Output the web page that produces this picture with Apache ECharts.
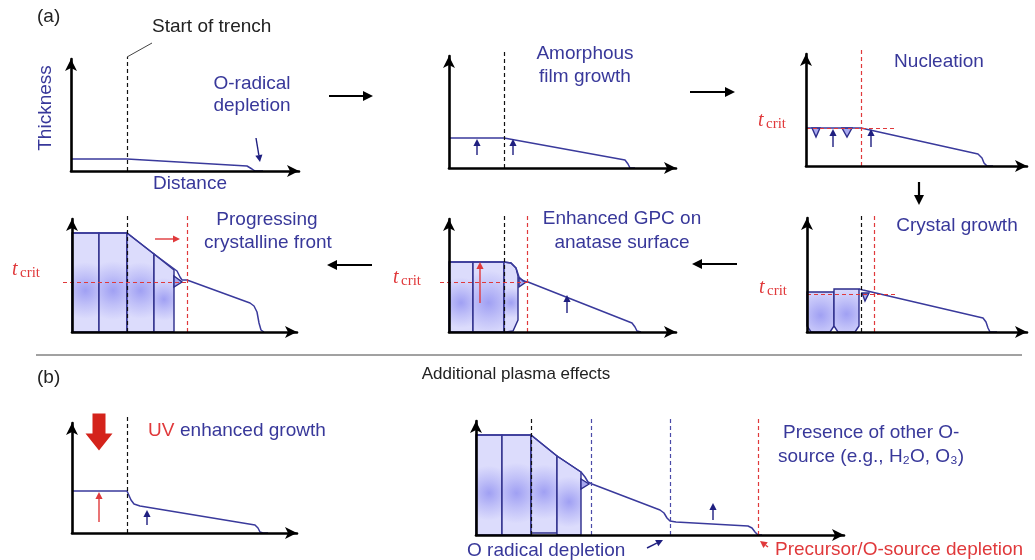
<!DOCTYPE html>
<html>
<head>
<meta charset="utf-8">
<script src="https://cdn.jsdelivr.net/npm/echarts@6/dist/echarts.min.js"></script>
<style>
html, body { margin: 0; padding: 0; background: #fff; }
#chart { width: 1035px; height: 560px; }
</style>
</head>
<body>
<div id="chart"></div>
<script>
// thickness profiles, one per panel (x = distance, y = thickness)
var profiles = [
  [[0, 12], [56, 12], [176, 5], [181, 2], [184, 0], [192, 0]],
  [[0, 30], [55, 30], [176, 8], [179, 4], [181, 0], [186, 0]],
  [[0, 38], [55, 38], [172, 12], [176, 8], [178, 3], [181, 0], [187, 0]],
  [[0, 99], [55, 99], [82, 78], [105, 61], [108, 55], [110, 52], [115, 52], [178, 29], [182, 26], [185, 20], [187, 9], [189, 2], [192, 0]],
  [[0, 70], [55, 70], [62, 69], [67, 64], [70, 55], [74, 51], [79, 50], [183, 9], [186, 5], [188, 1], [192, 0]],
  [[52, 43], [56, 42], [176, 14], [179, 10], [181, 4], [183, 0], [190, 0]],
  [[0, 42], [55, 42], [57, 40], [59, 33], [62, 29], [68, 27], [183, 8], [186, 5], [188, 1], [191, 0], [196, 0]],
  [[0, 100], [55, 100], [81, 79], [105, 63], [109, 58], [112, 53], [116, 51], [184, 25], [188, 22], [191, 17], [194, 14], [200, 13], [272, 9], [276, 7], [279, 3], [282, 0], [286, 0]]
];

// crystalline grains (polygons in data units): [panel, vertices]
var crystals = [
  [3, [[0, 0], [0, 99], [27, 99], [27, 0]]],
  [3, [[27, 0], [27, 99], [55, 99], [55, 0]]],
  [3, [[55, 0], [55, 99], [82, 78], [82, 0]]],
  [3, [[82, 0], [82, 78], [102, 62], [102, 0]]],
  [4, [[0, 0], [0, 70], [24, 70], [24, 0]]],
  [4, [[24, 0], [24, 70], [55, 70], [55, 0]]],
  [4, [[55, 0], [55, 70], [62, 69], [67, 64], [69, 56], [69, 12], [64, 1], [57, 0]]],
  [5, [[0, 6], [0, 40], [27, 40], [27, 6], [23, 0], [4, 0]]],
  [5, [[27, 6], [27, 43], [52, 43], [52, 6], [48, 0], [31, 0]]],
  [7, [[0, 0], [0, 100], [26, 100], [26, 0]]],
  [7, [[26, 0], [26, 100], [55, 100], [55, 0]]],
  [7, [[55, 2], [55, 100], [81, 79], [81, 2]]],
  [7, [[81, 0], [81, 79], [105, 63], [105, 0]]]
];

// nuclei (small triangles): [panel, vertices]
var nuclei = [
  [2, [[6, 38], [14, 38], [10, 29]]],
  [2, [[36, 38], [46, 38], [41, 29]]],
  [3, [[102, 56], [110, 50], [102, 45]]],
  [4, [[70, 54], [77, 50], [70, 45]]],
  [5, [[55, 39], [62, 39], [58, 31]]],
  [7, [[105, 56], [113, 51], [105, 46]]]
];

// vertical dashed markers: [panel, x, top, colour]
var vMarks = [
  [0, 56, 114, 'k'], [1, 55, 116, 'k'], [2, 55, 118, 'r'],
  [3, 55, 117, 'k'], [3, 115, 117, 'r'], [4, 55, 117, 'k'], [4, 78, 117, 'r'],
  [5, 54, 116, 'k'], [5, 67, 116, 'r'], [6, 55, 116, 'k'],
  [7, 55, 118, 'k'], [7, 115, 118, 'b'], [7, 194, 118, 'b'], [7, 282, 118, 'r']
];

// t_crit level: [panel, x0, x1, y]
var critLevels = [[2, 0, 91, 38], [3, -9, 115, 50], [4, -9, 78, 50], [5, 0, 90, 38]];

// small arrows inside panels: [panel, x0, y0, x1, y1, colour] (x1,y1 = tip)
var growthArrows = [
  [0, 185, 33, 189, 9, 'b'],
  [1, 28, 13, 28, 29, 'b'], [1, 64, 13, 64, 29, 'b'],
  [2, 27, 19, 27, 37, 'b'], [2, 65, 19, 65, 37, 'b'],
  [3, 83, 93, 108, 93, 'r'],
  [4, 31, 29, 31, 70, 'r'], [4, 118, 19, 118, 37, 'b'],
  [6, 27, 11, 27, 41, 'r'], [6, 75, 8, 75, 23, 'b'],
  [7, 237, 15, 237, 32, 'b'],
  [7, 171, -13, 187, -5, 'b'], [7, 292, -12, 284, -6, 'r']
];

// leader for "Start of trench": [panel, x0, y0, x1, y1]
var leaders = [[0, 56, 114, 81, 128]];

// UV exposure arrow position [panel, x, y]
var uvArrow = [6, 27, 101];

var NAVY = '#38389a', RED = '#e0393b', BLACK = '#111';
var SANS = '"Liberation Sans", Arial, sans-serif';
var SERIF = '"Liberation Serif", "DejaVu Serif", serif';
var colorOf = { k: BLACK, r: RED, b: '#4a4aa8' };

// panel frames: left, x-axis y, width, height (px)
var frames = [
  [71, 171, 228, 112], [449, 168, 227, 112], [806, 166, 221, 112],
  [72, 332, 225, 113], [449, 332, 227, 113], [807, 332, 220, 114],
  [72, 533, 225, 110], [476, 535, 368, 114]
];

var chart = echarts.init(document.getElementById('chart'));

var grids = [], xAxes = [], yAxes = [], series = [];

function axisOf(i, max) {
  return {
    gridIndex: i, type: 'value', min: 0, max: max, z: 10,
    axisLine: { show: true, onZero: false, symbol: ['none', 'arrow'], symbolSize: [9, 12],
      lineStyle: { color: '#000', width: 2.6 } },
    axisTick: { show: false }, axisLabel: { show: false }, splitLine: { show: false }
  };
}

function polyRender(list, filled) {
  return function (params, api) {
    var pts = list[params.dataIndex][1].map(function (p) { return api.coord(p); });
    return {
      type: 'polygon', shape: { points: pts },
      style: {
        fill: filled ? new echarts.graphic.RadialGradient(0.5, 0.58, 1.0, [
          { offset: 0, color: '#a0a0f3' }, { offset: 0.5, color: '#c0c0f8' }, { offset: 1, color: '#dcdcfc' }]) : '#a9a9ef',
        stroke: '#2c2c8a', lineWidth: 1.4
      }
    };
  };
}

function arrowRender(list) {
  return function (params, api) {
    var a = list[params.dataIndex];
    var p0 = api.coord([a[1], a[2]]), p1 = api.coord([a[3], a[4]]);
    var dx = p1[0] - p0[0], dy = p1[1] - p0[1];
    var len = Math.sqrt(dx * dx + dy * dy);
    var ux = dx / len, uy = dy / len, hl = 7, hw = 3.6;
    var bx = p1[0] - ux * hl, by = p1[1] - uy * hl;
    var col = a[5] === 'r' ? RED : '#1f1f80';
    return {
      type: 'group', children: [
        { type: 'line', shape: { x1: p0[0], y1: p0[1], x2: bx, y2: by }, style: { stroke: col, lineWidth: 1.4 } },
        { type: 'polygon', shape: { points: [p1, [bx - uy * hw, by + ux * hw], [bx + uy * hw, by - ux * hw]] }, style: { fill: col } }
      ]
    };
  };
}

frames.forEach(function (f, i) {
  grids.push({ left: f[0], top: f[1] - f[3], width: f[2], height: f[3], containLabel: false });
  xAxes.push(axisOf(i, f[2]));
  yAxes.push(axisOf(i, f[3]));

  var cr = crystals.filter(function (c) { return c[0] === i; });
  if (cr.length) {
    series.push({ type: 'custom', xAxisIndex: i, yAxisIndex: i, z: 2, silent: true, animation: false,
      renderItem: polyRender(cr, true), data: cr.map(function (c, k) { return [k]; }) });
  }
  var nu = nuclei.filter(function (c) { return c[0] === i; });
  if (nu.length) {
    series.push({ type: 'custom', xAxisIndex: i, yAxisIndex: i, z: 3, silent: true, animation: false,
      renderItem: polyRender(nu, false), data: nu.map(function (c, k) { return [k]; }) });
  }

  series.push({ type: 'line', xAxisIndex: i, yAxisIndex: i, data: profiles[i], symbol: 'none',
    clip: false, silent: true, animation: false, z: 4,
    lineStyle: { color: '#3a3a9c', width: 1.5 } });

  var segs = [];
  vMarks.filter(function (d) { return d[0] === i; }).forEach(function (d) {
    segs.push({ coords: [[d[1], 0], [d[1], d[2]]], lineStyle: { color: colorOf[d[3]] } });
  });
  critLevels.filter(function (d) { return d[0] === i; }).forEach(function (d) {
    segs.push({ coords: [[d[1], d[3]], [d[2], d[3]]], lineStyle: { color: RED } });
  });
  series.push({ type: 'lines', coordinateSystem: 'cartesian2d', xAxisIndex: i, yAxisIndex: i,
    clip: false, silent: true, animation: false, z: 5, symbol: 'none',
    lineStyle: { type: [4, 3], width: 1.2, opacity: 1 }, data: segs });

  var ld = leaders.filter(function (d) { return d[0] === i; });
  if (ld.length) {
    series.push({ type: 'lines', coordinateSystem: 'cartesian2d', xAxisIndex: i, yAxisIndex: i,
      clip: false, silent: true, animation: false, z: 5, symbol: 'none',
      lineStyle: { color: '#444', width: 1, opacity: 1 },
      data: ld.map(function (d) { return { coords: [[d[1], d[2]], [d[3], d[4]]] }; }) });
  }

  var ar = growthArrows.filter(function (d) { return d[0] === i; });
  if (ar.length) {
    series.push({ type: 'custom', xAxisIndex: i, yAxisIndex: i, z: 6, silent: true, animation: false,
      renderItem: arrowRender(ar), data: ar.map(function (c, k) { return [k]; }) });
  }

  if (uvArrow[0] === i) {
    series.push({ type: 'scatter', xAxisIndex: i, yAxisIndex: i, z: 6, silent: true, animation: false,
      clip: false, symbol: 'path://M7,0 H20 V20 H27 L13.5,37 L0,20 H7 Z', symbolSize: [27, 37],
      itemStyle: { color: '#d4231b', opacity: 1 }, data: [[uvArrow[1], uvArrow[2]]] });
  }
});

function label(x, y, s, o) {
  o = o || {};
  return { type: 'text', x: x, y: y, rotation: o.rot || 0, z: 20, silent: true,
    style: { text: s, fill: o.color || NAVY, fontSize: o.size || 19, fontFamily: o.font || SANS,
      fontStyle: o.italic ? 'italic' : 'normal', align: o.align || 'center', verticalAlign: 'middle' } };
}

function tcrit(x, base) {
  return [
    label(x, base - 6, 't', { color: RED, size: 20, font: SERIF, italic: true, align: 'left' }),
    label(x + 8, base - 3, 'crit', { color: RED, size: 15, font: SERIF, align: 'left' })
  ];
}

function flow(x0, y0, x1, y1) {
  var dx = x1 - x0, dy = y1 - y0, len = Math.sqrt(dx * dx + dy * dy);
  var ux = dx / len, uy = dy / len, hl = 10, hw = 5;
  var bx = x1 - ux * hl, by = y1 - uy * hl;
  return { type: 'group', z: 20, silent: true, children: [
    { type: 'line', shape: { x1: x0, y1: y0, x2: bx, y2: by }, style: { stroke: '#000', lineWidth: 2.2 } },
    { type: 'polygon', shape: { points: [[x1, y1], [bx - uy * hw, by + ux * hw], [bx + uy * hw, by - ux * hw]] }, style: { fill: '#000' } }
  ] };
}

var graphics = [
  label(37, 17, '(a)', { color: '#222', align: 'left' }),
  label(152, 27, 'Start of trench', { color: '#222', align: 'left' }),
  label(46, 108, 'Thickness', { rot: Math.PI / 2 }),
  label(190, 184, 'Distance'),
  label(252, 84, 'O-radical'),
  label(252, 106, 'depletion'),
  label(585, 54, 'Amorphous'),
  label(585, 77, 'film growth'),
  label(939, 62, 'Nucleation'),
  label(267, 220, 'Progressing'),
  label(268, 243, 'crystalline front'),
  label(622, 219, 'Enhanced GPC on'),
  label(622, 243, 'anatase surface'),
  label(957, 226, 'Crystal growth'),
  label(516, 374, 'Additional plasma effects', { color: '#222', size: 17 }),
  label(37, 378, '(b)', { color: '#222', align: 'left' }),
  label(148, 431, 'UV', { color: RED, align: 'left' }),
  label(180, 431, 'enhanced growth', { align: 'left' }),
  label(783, 433, 'Presence of other O-', { align: 'left' }),
  label(778, 457, 'source (e.g., H\u2082O, O\u2083)', { align: 'left' }),
  label(467, 551, 'O radical depletion', { align: 'left' }),
  label(775, 550, 'Precursor/O-source depletion', { color: RED, align: 'left' }),
  { type: 'line', z: 20, silent: true, shape: { x1: 36, y1: 355, x2: 1022, y2: 355 }, style: { stroke: '#444', lineWidth: 1 } },
  flow(329, 96, 373, 96),
  flow(690, 92, 735, 92),
  flow(919, 182, 919, 205),
  flow(737, 264, 692, 264),
  flow(372, 265, 327, 265)
].concat(tcrit(758, 127), tcrit(759, 294), tcrit(393, 284), tcrit(12, 276));

chart.setOption({
  backgroundColor: '#fff',
  animation: false,
  grid: grids,
  xAxis: xAxes,
  yAxis: yAxes,
  series: series,
  graphic: graphics
});
</script>
</body>
</html>
